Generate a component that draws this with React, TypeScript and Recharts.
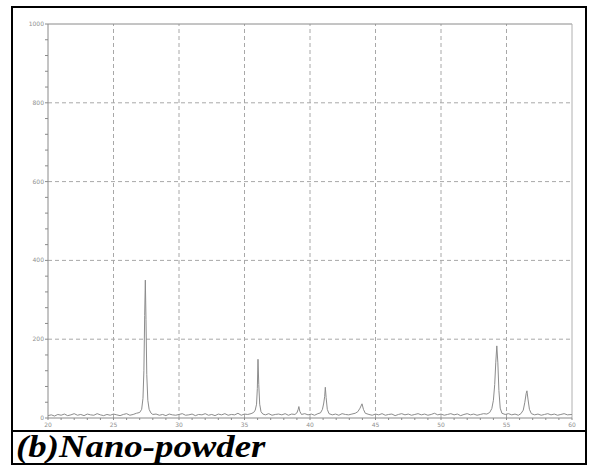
import React from 'react';
import { LineChart, Line, XAxis, YAxis, ReferenceLine } from 'recharts';

const twoTheta = [
  20.0, 20.25, 20.5, 20.75, 21.0, 21.25, 21.5, 21.75, 22.0, 22.25, 22.5, 22.75, 23.0, 23.25, 23.5, 23.75, 24.0, 24.25, 24.5, 24.75, 25.0, 25.25, 25.5, 25.75, 26.0, 26.25, 26.5, 26.75,
  27.0, 27.15, 27.25, 27.32, 27.38, 27.43, 27.48, 27.54, 27.62, 27.72, 27.85, 28.0,
  28.25, 28.5, 28.75, 29.0, 29.25, 29.5, 29.75, 30.0, 30.25, 30.5, 30.75, 31.0, 31.25, 31.5, 31.75, 32.0, 32.25, 32.5, 32.75, 33.0, 33.25, 33.5, 33.75, 34.0, 34.25, 34.5, 34.75, 35.0, 35.25, 35.5,
  35.7, 35.82, 35.92, 35.98, 36.03, 36.09, 36.16, 36.26, 36.4,
  36.6, 36.85, 37.1, 37.35, 37.6, 37.85, 38.1, 38.35, 38.6, 38.85,
  39.0, 39.1, 39.15, 39.22, 39.35,
  39.6, 39.85, 40.1, 40.35, 40.6, 40.8,
  40.95, 41.05, 41.12, 41.17, 41.23, 41.32, 41.45,
  41.7, 41.95, 42.2, 42.45, 42.7, 42.95, 43.2, 43.45,
  43.65, 43.82, 43.97, 44.08, 44.22,
  44.5, 44.75, 45.0, 45.25, 45.5, 45.75, 46.0, 46.25, 46.5, 46.75, 47.0, 47.25, 47.5, 47.75, 48.0, 48.25, 48.5, 48.75, 49.0, 49.25, 49.5, 49.75, 50.0, 50.25, 50.5, 50.75, 51.0, 51.25, 51.5, 51.75, 52.0, 52.25, 52.5, 52.75, 53.0, 53.25, 53.5,
  53.72, 53.88, 54.0, 54.1, 54.18, 54.26, 54.34, 54.42, 54.52, 54.65,
  54.9, 55.15, 55.4, 55.65, 55.9, 56.1,
  56.28, 56.4, 56.5, 56.56, 56.64, 56.75, 56.9,
  57.15, 57.4, 57.65, 57.9, 58.15, 58.4, 58.65, 58.9, 59.15, 59.4, 59.65, 60.0,
];

const intensity = [
  6, 8, 5, 9, 7, 10, 6, 8, 11, 7, 9, 6, 10, 8, 7, 11, 8, 6, 9, 7, 10, 8, 6, 9, 11, 7, 9, 12,
  14, 22, 50, 120, 260, 350, 250, 110, 45, 22, 13, 9,
  10, 7, 9, 6, 10, 8, 7, 9, 11, 7, 8, 10, 6, 9, 8, 11, 7, 9, 6, 10, 8, 11, 7, 9, 8, 12, 7, 10, 9, 11,
  14, 20, 35, 75, 149, 85, 35, 16, 10,
  8, 11, 7, 9, 10, 8, 11, 7, 10, 9,
  13, 22, 29, 17, 9,
  11, 8, 10, 7, 11, 13,
  22, 38, 55, 78, 52, 22, 11,
  8, 10, 7, 11, 9, 8, 10, 12,
  16, 25, 36, 22, 12,
  9, 7, 10, 8, 11, 7, 9, 10, 6, 9, 11, 8, 10, 7, 9, 11, 8, 10, 7, 9, 12, 8, 10, 7, 9, 11, 8, 10, 6, 9, 11, 8, 10, 7, 9, 11, 10,
  14, 24, 45, 85, 140, 183, 140, 70, 25, 12,
  9, 11, 8, 10, 7, 11,
  20, 40, 62, 69, 48, 22, 11,
  8, 10, 7, 9, 11, 8, 10, 7, 9, 11, 8, 9,
];

const xMajor = [20, 25, 30, 35, 40, 45, 50, 55, 60];
const xMinor = [20, 21, 22, 23, 24, 25, 26, 27, 28, 29, 30, 31, 32, 33, 34, 35, 36, 37, 38, 39, 40, 41, 42, 43, 44, 45, 46, 47, 48, 49, 50, 51, 52, 53, 54, 55, 56, 57, 58, 59, 60];
const yMajor = [0, 200, 400, 600, 800, 1000];
const yMinor = [0, 40, 80, 120, 160, 200, 240, 280, 320, 360, 400, 440, 480, 520, 560, 600, 640, 680, 720, 760, 800, 840, 880, 920, 960, 1000];
const caption = '(b)Nano-powder';

const data = twoTheta.map((t, i) => ({ t, v: intensity[i] }));

const AXIS = '#8a8a8a';
const GRID = '#a8a8a8';
const LABEL = '#909090';

const YTick = (props: any) => {
  const { x, y, payload } = props;
  const major = yMajor.includes(payload.value);
  return (
    <g>
      <line x1={x - 3} x2={x} y1={y} y2={y} stroke={AXIS} strokeWidth={1} />
      {major && (
        <text x={x - 4} y={y} dy={2} textAnchor="end" fontSize={6} fill={LABEL} stroke="none" fontFamily="DejaVu Sans">
          {payload.value}
        </text>
      )}
    </g>
  );
};

const XTick = (props: any) => {
  const { x, y, payload } = props;
  const major = xMajor.includes(payload.value);
  return (
    <g>
      <line x1={x} x2={x} y1={y} y2={y + 2} stroke={AXIS} strokeWidth={1} />
      {major && (
        <text x={x} y={y + 9} textAnchor="middle" fontSize={6} fill={LABEL} stroke="none" fontFamily="DejaVu Sans">
          {payload.value}
        </text>
      )}
    </g>
  );
};

const bar = (left: number, top: number, width: number, height: number) => (
  <div style={{ position: 'absolute', left, top, width, height, background: '#000' }} />
);

export default function App() {
  return (
    <div style={{ position: 'absolute', left: 0, top: 0, width: 592, height: 466, background: '#fff', overflow: 'hidden' }}>
      <div style={{ position: 'absolute', left: 0, top: 0 }}>
        <LineChart width={592} height={466} data={data} margin={{ top: 24, right: 20, bottom: 28, left: 8 }}>
          <XAxis
            dataKey="t"
            type="number"
            domain={[20, 60]}
            ticks={xMinor}
            interval={0}
            allowDataOverflow
            stroke={AXIS}
            tickLine={false}
            tickSize={0}
            tickMargin={0}
            height={20}
            tick={<XTick />}
          />
          <YAxis
            type="number"
            domain={[0, 1000]}
            ticks={yMinor}
            interval={0}
            allowDataOverflow
            stroke={AXIS}
            tickLine={false}
            tickSize={0}
            tickMargin={0}
            width={40}
            tick={<YTick />}
          />
          {[200, 400, 600, 800].map((v) => (
            <ReferenceLine key={'h' + v} y={v} stroke={GRID} strokeDasharray="4 3" strokeWidth={1} />
          ))}
          {[25, 30, 35, 40, 45, 50, 55].map((v) => (
            <ReferenceLine key={'v' + v} x={v} stroke={GRID} strokeDasharray="4 3" strokeWidth={1} />
          ))}
          <ReferenceLine y={1000} stroke={AXIS} strokeWidth={1} />
          <ReferenceLine x={60} stroke="#b0b0b0" strokeWidth={1} />
          <Line
            type="linear"
            dataKey="v"
            stroke="#8c8c8c"
            strokeWidth={1}
            dot={false}
            isAnimationActive={false}
          />
        </LineChart>
      </div>
      {bar(11, 6, 2, 459)}
      {bar(11, 6, 576, 2)}
      {bar(585, 6, 2, 459)}
      {bar(11, 430, 576, 2)}
      {bar(11, 463, 576, 2)}
      <div
        style={{
          position: 'absolute',
          left: 16,
          top: 430,
          fontFamily: '"Liberation Serif", "Times New Roman", serif',
          fontWeight: 'bold',
          fontStyle: 'italic',
          fontSize: 32,
          lineHeight: '32px',
          color: '#000',
          whiteSpace: 'nowrap',
          transform: 'scaleX(1.15)',
          transformOrigin: '0 0',
        }}
      >
        {caption}
      </div>
    </div>
  );
}
